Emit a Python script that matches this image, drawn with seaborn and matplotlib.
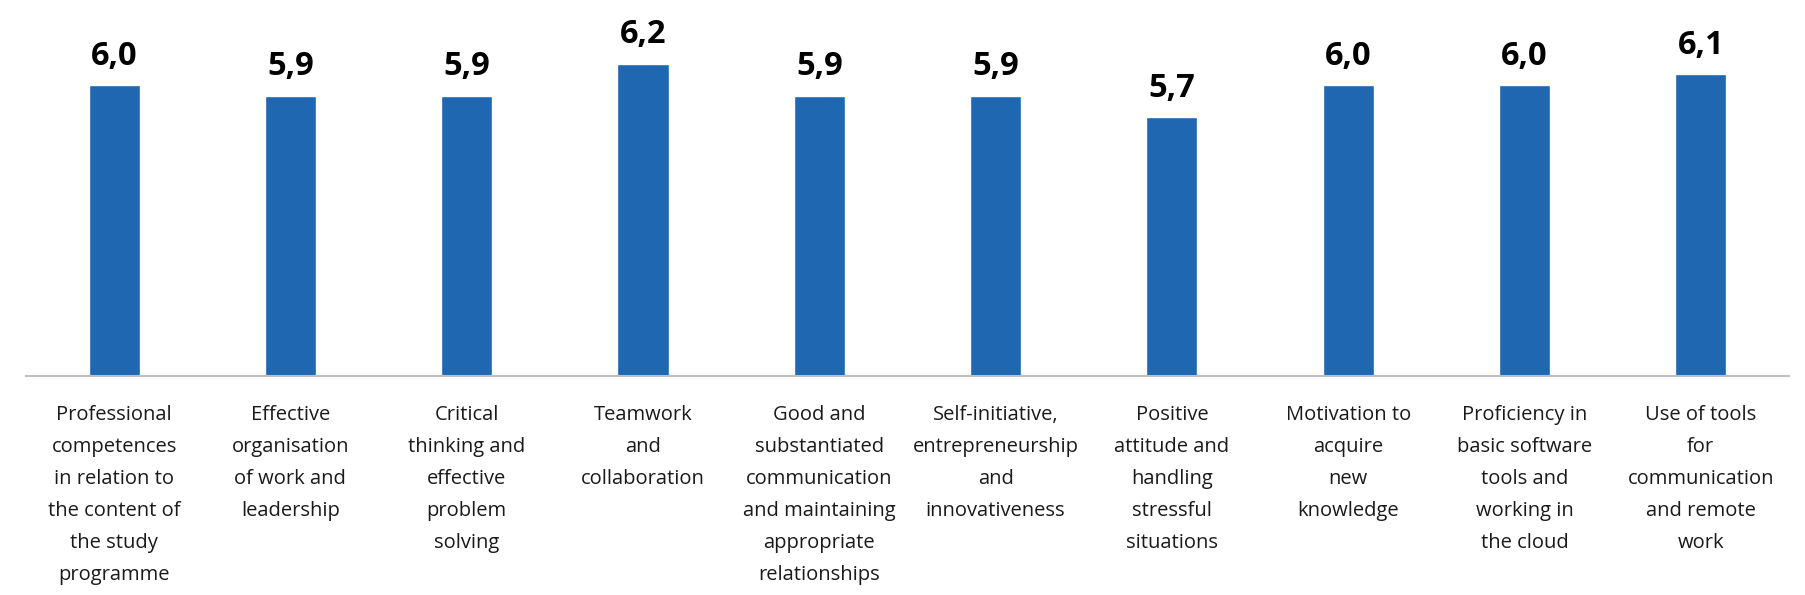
import pandas as pd
import matplotlib
matplotlib.use("Agg")
import matplotlib.pyplot as plt
import seaborn as sns

categories = [
    "Professional\ncompetences\nin relation to\nthe content of\nthe study\nprogramme",
    "Effective\norganisation\nof work and\nleadership",
    "Critical\nthinking and\neffective\nproblem\nsolving",
    "Teamwork\nand\ncollaboration",
    "Good and\nsubstantiated\ncommunication\nand maintaining\nappropriate\nrelationships",
    "Self-initiative,\nentrepreneurship\nand\ninnovativeness",
    "Positive\nattitude and\nhandling\nstressful\nsituations",
    "Motivation to\nacquire\nnew\nknowledge",
    "Proficiency in\nbasic software\ntools and\nworking in\nthe cloud",
    "Use of tools\nfor\ncommunication\nand remote\nwork",
]
scores = [6.0, 5.9, 5.9, 6.2, 5.9, 5.9, 5.7, 6.0, 6.0, 6.1]

bar_color = "#1F67B1"

sns.set_style("white")
plt.rcParams["font.family"] = ["Open Sans", "DejaVu Sans"]

df = pd.DataFrame({"category": categories, "score": scores})

fig = plt.figure(figsize=(18.05, 5.95), dpi=100)
ax = fig.add_axes([0.0144, 0.368, 0.9767, 0.632])

sns.barplot(data=df, x="category", y="score", color=bar_color,
            width=0.29, saturation=1, ax=ax)

ax.set_ylim(3.3, 6.79)
ax.set_xlim(-0.5, 9.5)

# value labels with decimal comma
labels = [f"{v:.1f}".replace(".", ",") for v in scores]
ax.bar_label(ax.containers[0], labels=labels, padding=9,
             fontsize=23.5, fontweight="bold", color="#000000")

for side in ["top", "right", "left"]:
    ax.spines[side].set_visible(False)
ax.spines["bottom"].set_color("#BFBFBF")
ax.spines["bottom"].set_linewidth(1.5)

ax.set_yticks([])
ax.set_xlabel("")
ax.set_ylabel("")
ax.tick_params(axis="x", length=0, pad=21)
plt.setp(ax.get_xticklabels(), fontsize=14.5, color="#1A1A1A",
         linespacing=1.8, ha="center", va="top")

fig.savefig("out.png", dpi=100, facecolor="white")
